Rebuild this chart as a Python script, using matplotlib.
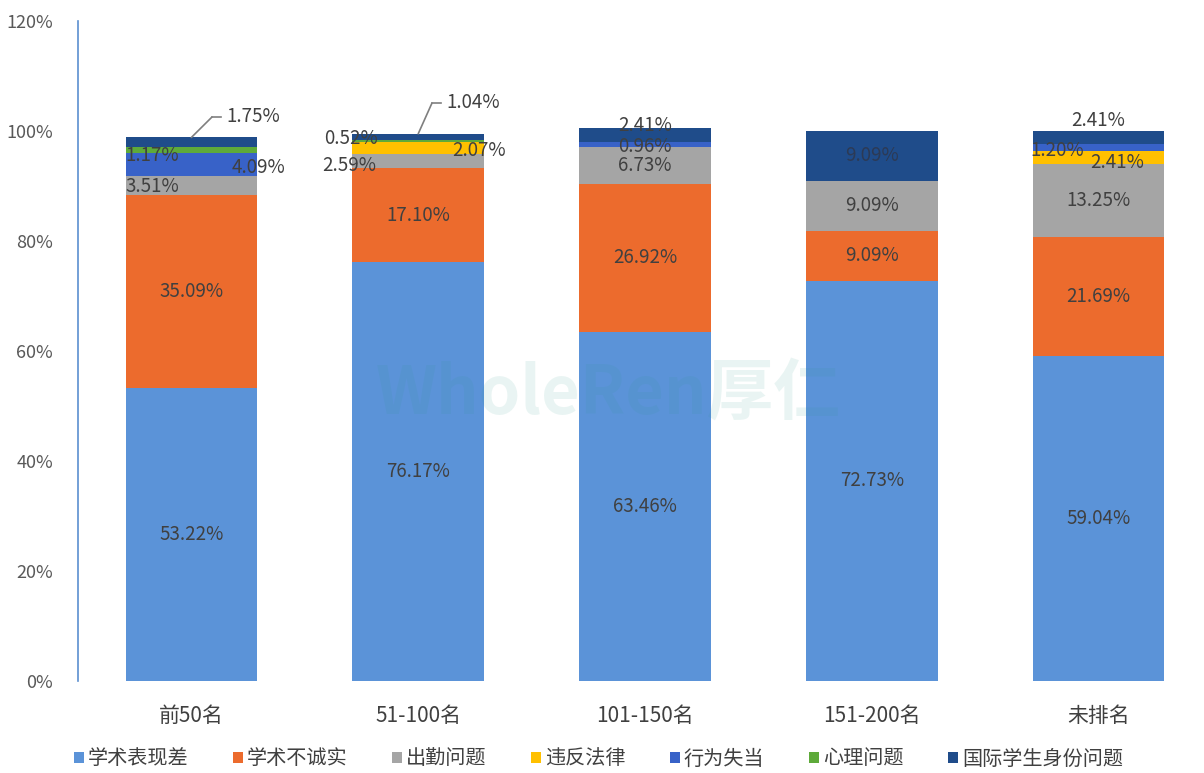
import matplotlib
matplotlib.use("Agg")
import matplotlib.pyplot as plt
from matplotlib.lines import Line2D
import numpy as np

plt.rcParams['font.family'] = ['Noto Sans CJK SC', 'DejaVu Sans']

categories = ['前50名', '51-100名', '101-150名', '151-200名', '未排名']
series_names = ['学术表现差', '学术不诚实', '出勤问题', '违反法律', '行为失当', '心理问题', '国际学生身份问题']
academic_poor = [53.22, 76.17, 63.46, 72.73, 59.04]
dishonesty = [35.09, 17.10, 26.92, 9.09, 21.69]
attendance = [3.51, 2.59, 6.73, 9.09, 13.25]
law = [0.0, 2.07, 0.0, 0.0, 2.41]
misconduct = [4.09, 0.0, 0.96, 0.0, 1.20]
mental = [1.17, 0.52, 0.0, 0.0, 0.0]
visa = [1.75, 1.04, 2.41, 9.09, 2.41]
yticks = [0, 20, 40, 60, 80, 100, 120]

colors = ['#5b93d8', '#ec6b2d', '#a5a5a5', '#ffc000', '#3862c8', '#5eaa3a', '#1f4c8a']
series = [academic_poor, dishonesty, attendance, law, misconduct, mental, visa]

W, H = 1204, 773
# label offsets in pixels (dx, dy) per (category, series); default centered
offsets = {
    (0, 2): (-39, -1), (0, 4): (67, -3), (0, 5): (-39, -5),
    (1, 2): (-69, -5), (1, 3): (61, -2), (1, 5): (-67, 2),
    (2, 4): (0, -2), (2, 6): (0, 9),
    (4, 3): (19, -5), (4, 4): (-41, -3), (4, 6): (0, 17),
}
# leader lines: (elbow x, elbow y, text-left x) in picture pixels from top-left
leaders = {(0, 6): (212, 117, 224), (1, 6): (432, 103, 444)}

fig = plt.figure(figsize=(W/100, H/100), dpi=100)
ax = fig.add_axes([78/W, 1-681/H, 1-78/W, (681-21)/H])
ax.set_xlim(-0.5, (W-78)/226.8 - 0.5)
ax.set_ylim(0, 120)

x = np.arange(len(categories))
width = 0.58
bottom = np.zeros(len(categories))
txtc = '#404040'
fs = 13.5
for si, (vals, c, name) in enumerate(zip(series, colors, series_names)):
    vals = np.array(vals)
    ax.bar(x, vals, width, bottom=bottom, color=c, label=name, edgecolor='none', zorder=2)
    for ci, v in enumerate(vals):
        if v <= 0:
            continue
        cy = bottom[ci] + v/2
        label = f'{v:.2f}%'
        if (ci, si) in leaders:
            lx, ly, tx = leaders[(ci, si)]
            top = bottom[ci] + v
            ax.annotate('', xy=(x[ci], top), xytext=(lx, H - ly),
                        textcoords='figure pixels', annotation_clip=False,
                        arrowprops=dict(arrowstyle='-', color='#7f7f7f', lw=1.2,
                                        shrinkA=0, shrinkB=0), zorder=5)
            fig.add_artist(Line2D([lx/W, (lx+9)/W], [1-ly/H, 1-ly/H],
                                  color='#7f7f7f', lw=1.2))
            fig.text((tx+2)/W, 1-(ly-1)/H, label, ha='left', va='center',
                     fontsize=fs, color=txtc)
            continue
        dx, dy = offsets.get((ci, si), (0, 0))
        tc = '#2c3a55' if si == 6 and v > 5 else txtc
        ax.annotate(label, xy=(x[ci], cy), xytext=(dx, dy), textcoords='offset pixels',
                    ha='center', va='center', fontsize=fs, color=tc, zorder=5)
    bottom += vals

ax.set_yticks(yticks)
ax.set_yticklabels([f'{t}%' for t in yticks], fontsize=13, color='#595959')
ax.set_xticks(x)
ax.set_xticklabels(categories, fontsize=15, color=txtc)
ax.tick_params(axis='both', length=0)
ax.tick_params(axis='y', pad=18)
ax.tick_params(axis='x', pad=17)
for s in ['top', 'right', 'bottom']:
    ax.spines[s].set_visible(False)
ax.spines['left'].set_color('#5b8fd0')
ax.spines['left'].set_linewidth(1.2)

# watermark
fig.text(0.505, 0.49, 'WholeRen厚仁', fontsize=48, fontweight='bold', style='italic',
         color='#2e9c8c', alpha=0.10, ha='center', va='center', zorder=10)

handles, labels = ax.get_legend_handles_labels()
leg = fig.legend(handles, labels, loc='center', bbox_to_anchor=(0.497, 1-759/H), ncol=7,
                 frameon=False, fontsize=14.5, handlelength=0.5, handleheight=0.5,
                 handletextpad=0.2, columnspacing=2.2, borderpad=0.1)
for t in leg.get_texts():
    t.set_color(txtc)

fig.savefig('out.png', dpi=100)
